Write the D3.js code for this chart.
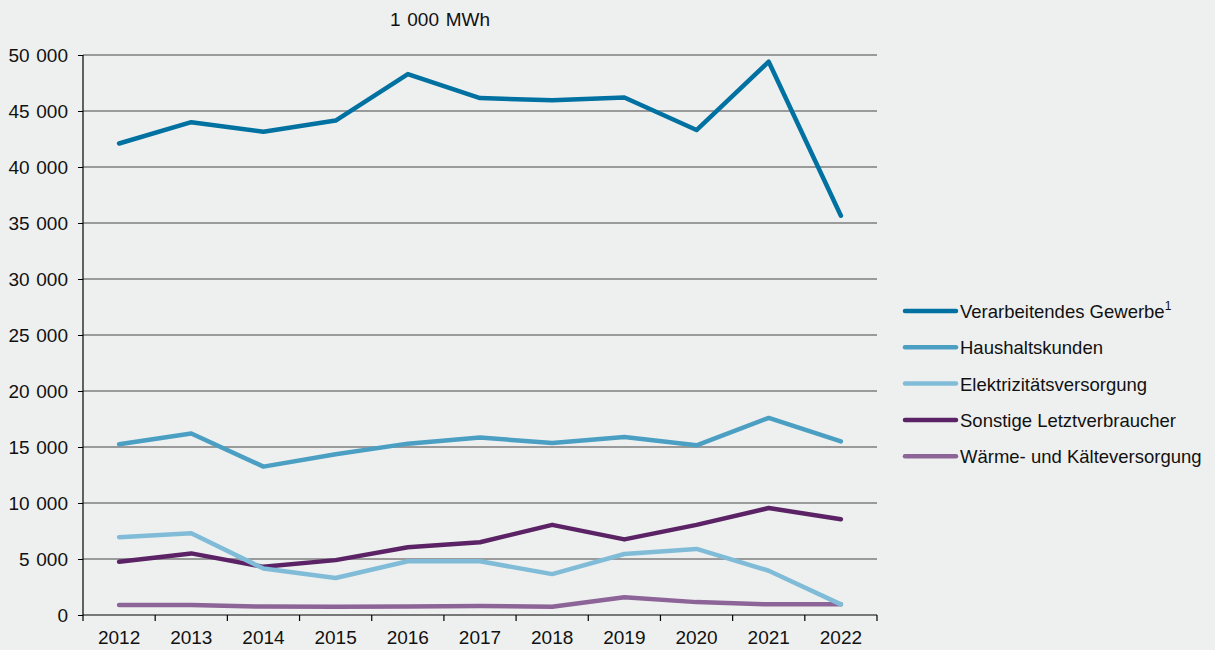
<!DOCTYPE html>
<html>
<head>
<meta charset="utf-8">
<script src="https://cdn.jsdelivr.net/npm/d3@7"></script>
<style>
  body { margin: 0; background: #eef0ef; }
  svg { display: block; font-family: "Liberation Sans", Arial, sans-serif; }
</style>
</head>
<body>
<div id="chart"></div>
<script>
var years = ["2012","2013","2014","2015","2016","2017","2018","2019","2020","2021","2022"];
var yTicks = [0, 5000, 10000, 15000, 20000, 25000, 30000, 35000, 40000, 45000, 50000];

var verarbeitend = [42100, 44000, 43150, 44150, 48300, 46150, 45950, 46200, 43300, 49400, 35650];
var haushalt     = [15250, 16200, 13250, 14350, 15300, 15850, 15350, 15900, 15150, 17600, 15500];
var elektrizitaet = [6950, 7300, 4150, 3300, 4800, 4800, 3650, 5450, 5900, 3950, 950];
var sonstige     = [4750, 5500, 4300, 4900, 6050, 6500, 8050, 6750, 8050, 9550, 8550];
var waerme       = [900, 900, 750, 730, 750, 800, 740, 1580, 1150, 950, 950];

var seriesNames = ["Verarbeitendes Gewerbe", "Haushaltskunden", "Elektrizitätsversorgung",
                   "Sonstige Letztverbraucher", "Wärme- und Kälteversorgung"];
var seriesData = [verarbeitend, haushalt, elektrizitaet, sonstige, waerme];
var colors = ["#0071a1", "#4b9fc3", "#80bcd8", "#5b2365", "#8d6497"];

var width = 1215, height = 650;
var margin = {left: 83, right: 338, top: 55, bottom: 35};

var svg = d3.select("#chart").append("svg")
    .attr("width", width)
    .attr("height", height);

var xScale = d3.scaleBand()
    .domain(years)
    .range([margin.left, width - margin.right]);

var yScale = d3.scaleLinear()
    .domain([0, 50000])
    .range([height - margin.bottom, margin.top]);

var fmt = function(d) { return d3.format(",")(d).replace(/,/g, " "); };

// gridlines
svg.append("g")
    .selectAll("line")
    .data(yTicks.filter(function(d) { return d > 0; }))
    .enter().append("line")
    .attr("x1", margin.left)
    .attr("x2", width - margin.right)
    .attr("y1", function(d) { return yScale(d); })
    .attr("y2", function(d) { return yScale(d); })
    .attr("stroke", "#9a9a9a")
    .attr("stroke-width", 2);

// y axis
var yAxis = d3.axisLeft(yScale).tickValues(yTicks).tickFormat(fmt).tickSize(5).tickPadding(10);
var gy = svg.append("g")
    .attr("transform", "translate(" + margin.left + ",0)")
    .call(yAxis);
gy.select(".domain").attr("stroke", "#000").attr("stroke-width", 1.2).attr("d", "M0," + yScale(0) + "V" + yScale(50000));
gy.selectAll("text").attr("font-size", 19).attr("fill", "#111").style("word-spacing", "1.5px");

// x axis with ticks at band edges
var gx = svg.append("g")
    .attr("transform", "translate(0," + yScale(0) + ")");
gx.append("line")
    .attr("x1", margin.left).attr("x2", width - margin.right)
    .attr("stroke", "#000").attr("stroke-width", 1.2);
var edges = years.map(function(y) { return xScale(y); }).concat([width - margin.right]);
gx.selectAll(".edge").data(edges).enter().append("line")
    .attr("x1", function(d) { return d; }).attr("x2", function(d) { return d; })
    .attr("y1", 0).attr("y2", 6)
    .attr("stroke", "#000").attr("stroke-width", 1.2);
gx.selectAll("text").data(years).enter().append("text")
    .attr("x", function(d) { return xScale(d) + xScale.bandwidth() / 2; })
    .attr("y", 29)
    .attr("text-anchor", "middle")
    .attr("font-size", 19)
    .attr("fill", "#111")
    .text(function(d) { return d; });

// unit label
svg.append("text")
    .attr("x", 440).attr("y", 26)
    .attr("text-anchor", "middle")
    .attr("font-size", 19)
    .attr("fill", "#111")
    .style("word-spacing", "1.5px")
    .text("1 000 MWh");

// lines (draw in reverse so top series is on top)
var line = d3.line()
    .x(function(d, i) { return xScale(years[i]) + xScale.bandwidth() / 2; })
    .y(function(d) { return yScale(d); });

for (var k = seriesData.length - 1; k >= 0; k--) {
    svg.append("path")
        .datum(seriesData[k])
        .attr("d", line)
        .attr("fill", "none")
        .attr("stroke", colors[k])
        .attr("stroke-width", 4.5)
        .attr("stroke-linecap", "round")
        .attr("stroke-linejoin", "round");
}

// legend
var legend = svg.append("g").attr("transform", "translate(903,311)");
seriesNames.forEach(function(name, i) {
    var g = legend.append("g").attr("transform", "translate(0," + (i * 36.3) + ")");
    g.append("line")
        .attr("x1", 2).attr("x2", 53)
        .attr("stroke", colors[i])
        .attr("stroke-width", 4.5)
        .attr("stroke-linecap", "round");
    var t = g.append("text")
        .attr("x", 57).attr("y", 7)
        .attr("font-size", 18.5)
        .attr("fill", "#111")
        .text(name);
    if (i === 0) {
        t.append("tspan").attr("dy", -8).attr("font-size", 12).text("1");
    }
});
</script>
</body>
</html>
